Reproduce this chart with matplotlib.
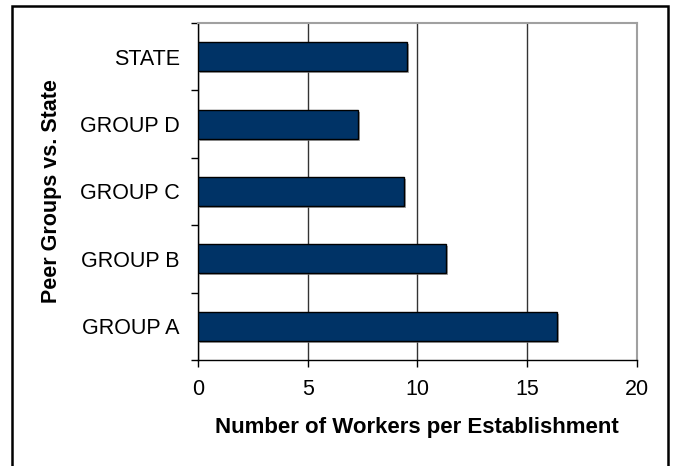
import matplotlib
matplotlib.use('Agg')
import matplotlib.pyplot as plt
import matplotlib.patheffects as pe
from matplotlib.patches import Rectangle
import numpy as np

plt.rcParams['font.family'] = ['Liberation Sans', 'DejaVu Sans']

groups = ['GROUP A', 'GROUP B', 'GROUP C', 'GROUP D', 'STATE']
workers = [16.36, 11.31, 9.41, 7.28, 9.51]
x_ticks = [0, 5, 10, 15, 20]

fig = plt.figure(figsize=(6.74, 4.66), dpi=100)
ax = fig.add_axes([0.2938, 0.2275, 0.6508, 0.7232])

y = np.arange(len(groups))
bars = ax.barh(y, workers, height=0.43, color='#003366', edgecolor='black',
               linewidth=1.0, zorder=3)
for b in bars:
    b.set_path_effects([pe.SimplePatchShadow(offset=(1.5, -1.5), shadow_rgbFace='gray', alpha=0.7),
                        pe.Normal()])

ax.set_xlim(0, 20)
ax.set_ylim(-0.5, len(groups) - 0.5)
ax.set_xticks(x_ticks)
ax.set_xticklabels([str(t) for t in x_ticks], fontsize=15.5)
ax.set_yticks(y)
ax.set_yticklabels(groups, fontsize=15.5)
ax.set_yticks(np.arange(-0.5, len(groups)), minor=True)
ax.tick_params(axis='y', which='major', length=0, pad=13)
ax.tick_params(axis='y', which='minor', length=5, width=1, direction='out')
ax.tick_params(axis='x', length=5, width=1, direction='out', pad=9)

ax.grid(axis='x', color='#333333', linewidth=1, zorder=0)
ax.set_axisbelow(True)
for s in ['top', 'right']:
    ax.spines[s].set_color('#a0a0a0')
    ax.spines[s].set_linewidth(1.5)
for s in ['left', 'bottom']:
    ax.spines[s].set_color('black')
    ax.spines[s].set_linewidth(1)

ax.set_xlabel('Number of Workers per Establishment', fontsize=16, fontweight='bold', labelpad=12)
ax.set_ylabel('Peer Groups vs. State', fontsize=15.5, fontweight='bold')
ax.yaxis.set_label_coords((62 - 198) / 438.7, 0.5)

frame = Rectangle((12 / 674, -0.05), (668 - 12) / 674, 1.05 - 6 / 466,
                  transform=fig.transFigure, fill=False, edgecolor='black',
                  linewidth=1.8, clip_on=False)
fig.patches.append(frame)

fig.savefig('out.png', dpi=100)
